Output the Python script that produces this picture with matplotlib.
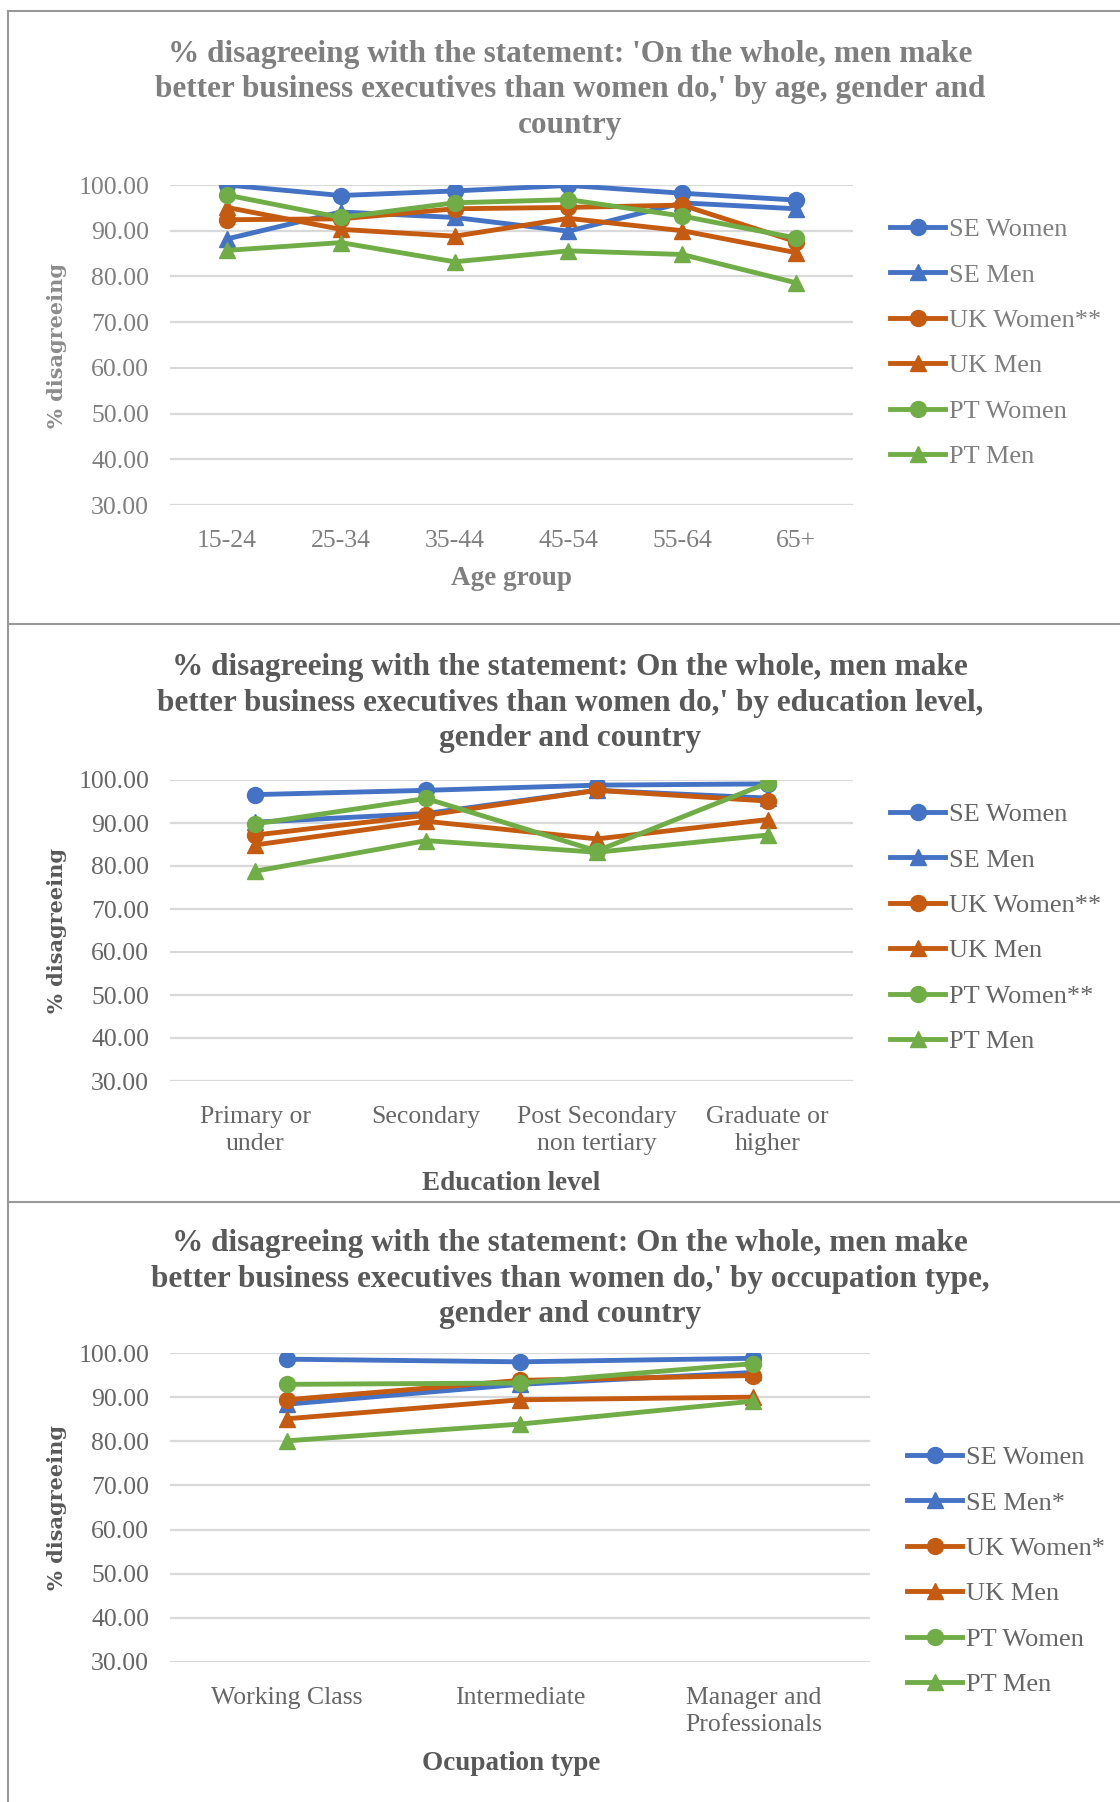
import matplotlib
matplotlib.use("Agg")
import matplotlib.pyplot as plt
from matplotlib.lines import Line2D

# ---------------- data ----------------
series_names = ["SE Women", "SE Men", "UK Women", "UK Men", "PT Women", "PT Men"]

age_groups = ["15-24", "25-34", "35-44", "45-54", "55-64", "65+"]
age_se_women = [100.0, 97.7, 98.7, 99.9, 98.2, 96.7]
age_se_men = [88.2, 94.1, 92.9, 89.9, 96.1, 94.8]
age_uk_women = [92.4, 92.6, 94.8, 95.1, 95.6, 87.6]
age_uk_men = [95.1, 90.3, 88.8, 92.7, 90.0, 85.2]
age_pt_women = [97.8, 92.9, 96.1, 96.8, 93.2, 88.4]
age_pt_men = [85.7, 87.4, 83.2, 85.6, 84.8, 78.6]
age_labels = ["SE Women", "SE Men", "UK Women**", "UK Men", "PT Women", "PT Men"]

edu_levels = ["Primary or\nunder", "Secondary", "Post Secondary\nnon tertiary", "Graduate or\nhigher"]
edu_se_women = [96.6, 97.6, 98.8, 99.1]
edu_se_men = [90.2, 92.2, 97.6, 95.8]
edu_uk_women = [87.2, 91.8, 97.6, 95.1]
edu_uk_men = [84.9, 90.4, 86.3, 90.8]
edu_pt_women = [89.8, 95.7, 83.5, 99.3]
edu_pt_men = [78.8, 85.9, 83.2, 87.2]
edu_labels = ["SE Women", "SE Men", "UK Women**", "UK Men", "PT Women**", "PT Men"]

occ_types = ["Working Class", "Intermediate", "Manager and\nProfessionals"]
occ_se_women = [98.6, 98.0, 98.8]
occ_se_men = [88.4, 92.9, 95.6]
occ_uk_women = [89.4, 93.8, 94.9]
occ_uk_men = [85.1, 89.4, 90.0]
occ_pt_women = [92.9, 93.2, 97.6]
occ_pt_men = [80.1, 83.9, 89.1]
occ_labels = ["SE Women", "SE Men*", "UK Women*", "UK Men", "PT Women", "PT Men"]

titles = [
    "% disagreeing with the statement: 'On the whole, men make\nbetter business executives than women do,' by age, gender and\ncountry",
    "% disagreeing with the statement: On the whole, men make\nbetter business executives than women do,' by education level,\ngender and country",
    "% disagreeing with the statement: On the whole, men make\nbetter business executives than women do,' by occupation type,\ngender and country",
]
xlabels = ["Age group", "Education level", "Ocupation type"]
yticks = [30, 40, 50, 60, 70, 80, 90, 100]

# ---------------- style ----------------
BLUE = "#4472C4"
ORANGE = "#C55A11"
GREEN = "#70AD47"
colors = [BLUE, BLUE, ORANGE, ORANGE, GREEN, GREEN]
markers = ["o", "^", "o", "^", "o", "^"]
SERIF = ["Liberation Serif", "DejaVu Serif"]

W, H = 1120, 1802
fig = plt.figure(figsize=(W / 100, H / 100), dpi=100)

def fx(px):
    return px / W

def fy(py):
    return 1 - py / H

panels = [
    dict(cats=age_groups, data=[age_se_women, age_se_men, age_uk_women, age_uk_men, age_pt_women, age_pt_men],
         labels=age_labels, ax=(170, 853, 185, 505), title_y=90, xlabel_y=579,
         leg=(890, 343), textc="#7f7f7f", titlec="#7f7f7f", ylabc="#8c8c8c"),
    dict(cats=edu_levels, data=[edu_se_women, edu_se_men, edu_uk_women, edu_uk_men, edu_pt_women, edu_pt_men],
         labels=edu_labels, ax=(170, 853, 780, 1081), title_y=703, xlabel_y=1183,
         leg=(890, 928), textc="#666666", titlec="#595959", ylabc="#595959"),
    dict(cats=occ_types, data=[occ_se_women, occ_se_men, occ_uk_women, occ_uk_men, occ_pt_women, occ_pt_men],
         labels=occ_labels, ax=(170, 870, 1353, 1662), title_y=1279, xlabel_y=1763,
         leg=(907, 1571), textc="#666666", titlec="#595959", ylabc="#595959"),
]

for i, p in enumerate(panels):
    x0, x1, y0, y1 = p["ax"]
    ax = fig.add_axes([fx(x0), fy(y1), fx(x1) - fx(x0), (y1 - y0) / H])
    n = len(p["cats"])
    xs = list(range(n))
    handles = []
    for vals, c, m, lab in zip(p["data"], colors, markers, p["labels"]):
        h, = ax.plot(xs, vals, color=c, lw=3.5, marker=m, markersize=11.5,
                     markeredgecolor=c, markerfacecolor=c, label=lab, solid_joinstyle="round")
        handles.append(h)
    ax.set_xlim(-0.5, n - 0.5)
    ax.set_ylim(30, 100)
    ax.set_yticks(yticks)
    ax.set_yticklabels([f"{v:.2f}" for v in yticks])
    ax.set_xticks(xs)
    ax.set_xticklabels(p["cats"])
    ax.yaxis.grid(True, color="#d9d9d9", lw=1.6)
    ax.set_axisbelow(True)
    for s in ax.spines.values():
        s.set_visible(False)
    ax.tick_params(axis="both", length=0, labelsize=18.5, colors=p["textc"])
    ax.tick_params(axis="y", pad=15)
    ax.tick_params(axis="x", pad=18)
    for t in ax.get_xticklabels() + ax.get_yticklabels():
        t.set_fontfamily(SERIF)
        t.set_linespacing(1.3)

    # title
    fig.text(fx(570), fy(p["title_y"]), titles[i],
             ha="center", va="center", fontsize=22.5, fontweight="bold",
             color=p["titlec"], family=SERIF, linespacing=1.28)
    # axis labels
    fig.text(fx((x0 + 853) / 2), fy(p["xlabel_y"]),
             xlabels[i], ha="center", va="center", fontsize=19.5,
             fontweight="bold", color=p["titlec"], family=SERIF)
    fig.text(fx(57), fy((y0 + y1) / 2), "% disagreeing", rotation=90, ha="center", va="center",
             fontsize=15, fontweight="bold", color=p["ylabc"], family=["DejaVu Serif"])
    # legend
    lx, ly = p["leg"]
    leg = fig.legend(handles=handles, loc="center left", bbox_to_anchor=(fx(lx), fy(ly)),
                     frameon=False, borderpad=0, borderaxespad=0, handlelength=2.1,
                     handletextpad=0.12, labelspacing=0.83,
                     prop=dict(family=SERIF, size=19))
    for t in leg.get_texts():
        t.set_color(p["textc"])

# panel borders
bc = "#999999"
for yy in [11, 624, 1202]:
    fig.add_artist(Line2D([fx(8), 1.0], [fy(yy), fy(yy)], color=bc, lw=1.5))
fig.add_artist(Line2D([fx(8), fx(8)], [fy(11), 0.0], color=bc, lw=1.5))

fig.savefig("out.png", dpi=100)
